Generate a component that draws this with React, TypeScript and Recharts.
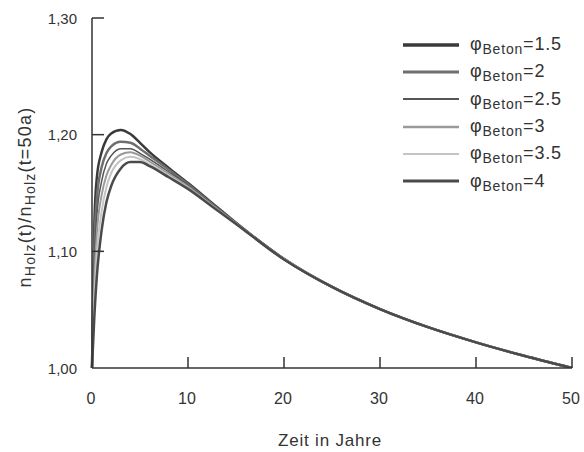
import React from 'react';
import { LineChart, Line, XAxis, YAxis, Legend } from 'recharts';

const years = [0, 0.25, 0.5, 1, 1.5, 2, 3, 4, 5, 6, 8, 10, 12.5, 15, 20, 25, 30, 35, 40, 45, 50];
const phi15 = [1.0, 1.125, 1.163, 1.185, 1.196, 1.201, 1.204, 1.2005, 1.193, 1.185, 1.1715, 1.1585, 1.1415, 1.1245, 1.0935, 1.0695, 1.0505, 1.035, 1.022, 1.0105, 1.0];
const phi20 = [1.0, 1.105, 1.145, 1.172, 1.184, 1.19, 1.194, 1.193, 1.188, 1.182, 1.17, 1.1575, 1.1405, 1.124, 1.0935, 1.0695, 1.0505, 1.035, 1.022, 1.0105, 1.0];
const phi25 = [1.0, 1.09, 1.13, 1.16, 1.175, 1.182, 1.188, 1.188, 1.184, 1.179, 1.168, 1.1565, 1.14, 1.124, 1.0935, 1.0695, 1.0505, 1.035, 1.022, 1.0105, 1.0];
const phi30 = [1.0, 1.075, 1.115, 1.148, 1.165, 1.174, 1.183, 1.185, 1.182, 1.177, 1.1665, 1.1555, 1.1395, 1.1238, 1.0933, 1.0695, 1.0505, 1.035, 1.022, 1.0105, 1.0];
const phi35 = [1.0, 1.06, 1.098, 1.134, 1.155, 1.167, 1.178, 1.181, 1.179, 1.1745, 1.165, 1.1545, 1.139, 1.1236, 1.0932, 1.0695, 1.0505, 1.035, 1.022, 1.0105, 1.0];
const phi40 = [1.0, 1.045, 1.078, 1.118, 1.142, 1.156, 1.171, 1.1765, 1.1765, 1.173, 1.1635, 1.1535, 1.1385, 1.1235, 1.093, 1.0695, 1.0505, 1.035, 1.022, 1.0105, 1.0];

const seriesKeys = ['p15', 'p20', 'p25', 'p30', 'p35', 'p40'];
const seriesLabels = ['1.5', '2', '2.5', '3', '3.5', '4'];
const seriesValues = [phi15, phi20, phi25, phi30, phi35, phi40];
const seriesColors = ['#3a3a3a', '#6e6e6e', '#555555', '#9a9a9a', '#c4c4c4', '#4a4a4a'];
const seriesWidths = [2.5, 2.5, 1.5, 2, 2, 2.5];
const legendWidths = [3.5, 3, 2, 2.5, 2, 3];

const xTicks = [0, 10, 20, 30, 40, 50];
const yTicks = [1.0, 1.1, 1.2, 1.3];

const data = years.map((t, i) => {
  const row: Record<string, number> = { t };
  seriesKeys.forEach((k, j) => {
    row[k] = seriesValues[j][i];
  });
  return row;
});

const FONT = 'Liberation Sans, Arial, sans-serif';
const INK = '#333';

const YTick = (props: any) => {
  const { x, y, payload } = props;
  const v = payload.value as number;
  return (
    <g>
      {v > 1.0 && <line x1={x} y1={y} x2={x + 12} y2={y} stroke={INK} strokeWidth={1.5} />}
      <text x={x - 15} y={y} dy={5.5} textAnchor="end" fontSize={15} fill={INK} fontFamily={FONT}>
        {v.toFixed(2).replace('.', ',')}
      </text>
    </g>
  );
};

const XTick = (props: any) => {
  const { x, y, payload } = props;
  const v = payload.value as number;
  return (
    <g>
      {v > 0 && <line x1={x} y1={y} x2={x} y2={y - 11} stroke={INK} strokeWidth={1.5} />}
      <text x={x - 1} y={y} dy={36} textAnchor="middle" fontSize={16} fill={INK} fontFamily={FONT}>
        {v}
      </text>
    </g>
  );
};

const YLabel = () => (
  <text
    x={25}
    y={197}
    transform="rotate(-90, 25, 197)"
    textAnchor="middle"
    fontSize={18}
    fill={INK}
    fontFamily={FONT}
    letterSpacing={1.2}
    dy={6}
  >
    <tspan>n</tspan>
    <tspan fontSize={14} dy={4}>Holz</tspan>
    <tspan dy={-4}>(t)/n</tspan>
    <tspan fontSize={14} dy={4}>Holz</tspan>
    <tspan dy={-4}>(t=50a)</tspan>
  </text>
);

const XLabel = () => (
  <text x={330} y={446} textAnchor="middle" fontSize={17} fill={INK} fontFamily={FONT} letterSpacing={0.8}>
    Zeit in Jahre
  </text>
);

const renderLegend = () => (
  <div style={{ fontFamily: FONT, color: INK }}>
    {seriesLabels.map((lab, i) => (
      <div key={lab} style={{ display: 'flex', alignItems: 'center', height: 27.3 }}>
        <svg width={60} height={10} style={{ marginRight: 9 }}>
          <line x1={2} y1={5} x2={58} y2={5} stroke={seriesColors[i]} strokeWidth={legendWidths[i]} />
        </svg>
        <span style={{ fontSize: 18, whiteSpace: 'nowrap', letterSpacing: 0.8 }}>
          φ<span style={{ fontSize: 14, position: 'relative', top: 4 }}>Beton</span>={lab}
        </span>
      </div>
    ))}
  </div>
);

export default function App() {
  return (
    <div style={{ position: 'absolute', left: 0, top: 0, width: 584, height: 452, background: '#fff' }}>
      <LineChart width={584} height={452} data={data} margin={{ top: 18, right: 12, left: 0, bottom: 0 }}>
        <XAxis
          dataKey="t"
          type="number"
          domain={[0, 50]}
          ticks={xTicks}
          height={84}
          tickSize={0}
          tickMargin={0}
          tickLine={false}
          axisLine={{ stroke: INK, strokeWidth: 1.5 }}
          tick={<XTick />}
          label={<XLabel />}
          interval={0}
        />
        <YAxis
          type="number"
          domain={[1.0, 1.3]}
          ticks={yTicks}
          width={92}
          tickSize={0}
          tickMargin={0}
          tickLine={false}
          axisLine={{ stroke: INK, strokeWidth: 1.5 }}
          tick={<YTick />}
          label={<YLabel />}
          interval={0}
          allowDataOverflow
        />
        <Legend
          content={renderLegend}
          layout="vertical"
          verticalAlign="middle"
          align="center"
          wrapperStyle={{ top: 31, left: 401, width: 183 }}
        />
        {seriesKeys.map((k, i) => (
          <Line
            key={k}
            dataKey={k}
            type="monotone"
            stroke={seriesColors[i]}
            strokeWidth={seriesWidths[i]}
            dot={false}
            isAnimationActive={false}
          />
        ))}
      </LineChart>
    </div>
  );
}
